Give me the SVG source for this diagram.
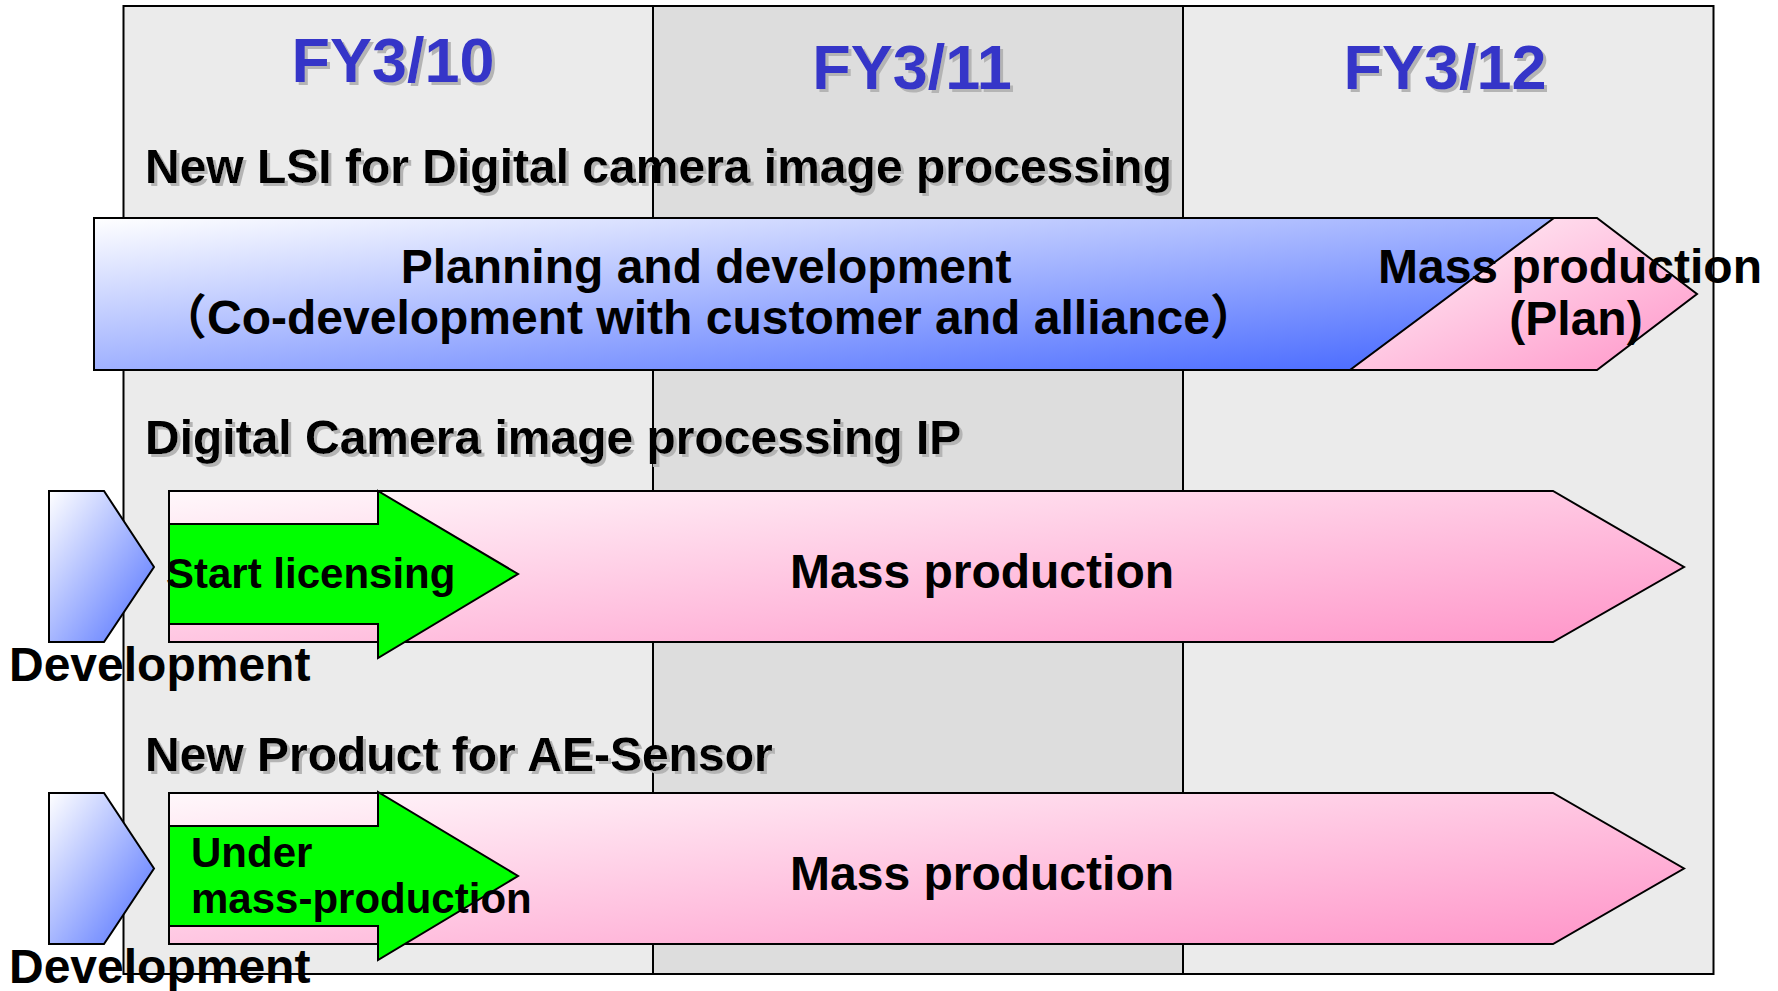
<svg xmlns="http://www.w3.org/2000/svg" width="1778" height="991" viewBox="0 0 1778 991">
<style>
text{font-family:"Liberation Sans",Arial,"Noto Sans CJK JP",sans-serif;font-weight:bold;fill:#000}
.fy{font-size:63px;fill:#3535C8;text-anchor:middle;filter:url(#sh)}
.ttl{font-size:48px;filter:url(#sh)}
.t48{font-size:48px}
.t42{font-size:42px}
.mid{text-anchor:middle}
.ln{stroke:#000;stroke-width:2;fill:none}
.shape{stroke:#000;stroke-width:2}
</style>
<defs>
<linearGradient id="gBlue" x1="0" y1="0" x2="1" y2="1">
<stop offset="0" stop-color="#FFFFFF"/>
<stop offset="1" stop-color="#4063FF"/>
</linearGradient>
<linearGradient id="gPink" x1="0" y1="0" x2="1" y2="1">
<stop offset="0" stop-color="#FFF8FB"/>
<stop offset="1" stop-color="#FF94C8"/>
</linearGradient>
<linearGradient id="gDev" x1="0" y1="0" x2="1" y2="1">
<stop offset="0" stop-color="#FFFFFF"/>
<stop offset="1" stop-color="#4E6EFF"/>
</linearGradient>
<filter id="sh" x="-5%" y="-20%" width="110%" height="150%">
<feOffset in="SourceAlpha" dx="3" dy="3" result="o"/>
<feFlood flood-color="#B4B4B4"/>
<feComposite in2="o" operator="in" result="s"/>
<feMerge><feMergeNode in="s"/><feMergeNode in="SourceGraphic"/></feMerge>
</filter>
</defs>
<rect width="1778" height="991" fill="#FFFFFF"/>
<g id="columns">
<rect x="123.5" y="6" width="529.5" height="968" fill="#EBEBEB"/>
<rect x="653" y="6" width="530" height="968" fill="#DDDDDD"/>
<rect x="1183" y="6" width="530.5" height="968" fill="#EBEBEB"/>
<line class="ln" x1="653" y1="6" x2="653" y2="974"/>
<line class="ln" x1="1183" y1="6" x2="1183" y2="974"/>
<rect class="ln" x="123.5" y="6" width="1590" height="968" stroke-width="2.5"/>
</g>
<g id="headers">
<text class="fy" x="393" y="82">FY3/10</text>
<text class="fy" x="912" y="89">FY3/11</text>
<text class="fy" x="1445" y="89">FY3/12</text>
</g>
<g id="lsi">
<text class="ttl" x="145" y="183">New LSI for Digital camera image processing</text>
<g id="lsi-dev">
<rect class="shape" x="94" y="218" width="1469" height="152" fill="url(#gBlue)"/>
<text class="t48 mid" x="706" y="283">Planning and development</text>
<text class="t48" x="159" y="334">（Co-development with customer and alliance）</text>
</g>
<g id="lsi-mass">
<polygon class="shape" points="1554,218 1597,218 1697,294 1597,370 1350,370" fill="url(#gPink)"/>
<text class="t48 mid" x="1570" y="283">Mass production</text>
<text class="t48 mid" x="1576" y="335">(Plan)</text>
</g>
</g>
<g id="ip">
<text class="ttl" x="145" y="454">Digital Camera image processing IP</text>
<g id="ip-dev">
<polygon class="shape" points="49,491 104,491 154,567 104,642 49,642" fill="url(#gDev)"/>
<text class="t48" x="9" y="681">Development</text>
</g>
<g id="ip-mass">
<polygon class="shape" points="169,491 1553,491 1684,567 1553,642 169,642" fill="url(#gPink)"/>
<text class="t48" x="790" y="588">Mass production</text>
</g>
<g id="ip-lic">
<polygon class="shape" points="169,524 378,524 378,491 518,574 378,658 378,624 169,624" fill="#00FF00"/>
<text class="t42" x="166" y="588">Start licensing</text>
</g>
</g>
<g id="ae">
<text class="ttl" x="145" y="771">New Product for AE-Sensor</text>
<g id="ae-dev">
<polygon class="shape" points="49,793 104,793 154,868.5 104,944 49,944" fill="url(#gDev)"/>
<text class="t48" x="9" y="983">Development</text>
</g>
<g id="ae-mass">
<polygon class="shape" points="169,793 1553,793 1684,868.5 1553,944 169,944" fill="url(#gPink)"/>
<text class="t48" x="790" y="890">Mass production</text>
</g>
<g id="ae-under">
<polygon class="shape" points="169,826 378,826 378,792 518,876 378,960 378,926 169,926" fill="#00FF00"/>
<text class="t42" x="191" y="867">Under</text>
<text class="t42" x="191" y="913">mass-production</text>
</g>
</g>
</svg>
